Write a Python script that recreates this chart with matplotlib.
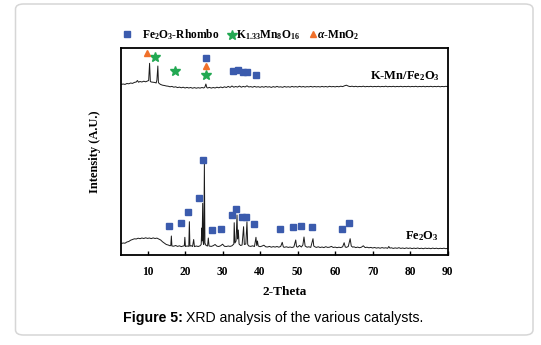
import matplotlib
matplotlib.use("Agg")
import matplotlib.pyplot as plt
from matplotlib.lines import Line2D
from matplotlib.patches import FancyBboxPatch

plt.rcParams['mathtext.fontset'] = 'custom'
plt.rcParams['mathtext.rm'] = 'Liberation Serif:bold'
plt.rcParams['mathtext.it'] = 'Liberation Serif:italic:bold'
plt.rcParams['mathtext.bf'] = 'Liberation Serif:bold'

# ---------------- data ----------------
fe_x = [3.0, 3.5, 4.0, 4.5, 5.0, 5.5, 6.0, 6.5, 7.0, 7.5, 8.0, 8.5, 9.0, 9.5, 10.0, 10.5, 11.0, 11.5,
        12.0, 12.5, 13.0, 13.5, 14.0, 14.5, 15.0, 15.5, 16.0, 16.2, 16.35, 16.5, 17.0, 17.5, 18.0, 18.5,
        19.0, 19.5, 19.8, 19.95, 20.1, 20.5, 21.0, 21.15, 21.3, 21.6, 22.0, 22.3, 22.5, 23.0, 23.5, 24.0,
        24.3, 24.45, 24.55, 24.7, 24.85, 25.0, 25.15, 25.3, 25.6, 26.0, 26.2, 26.4, 27.0, 27.5, 28.0, 28.5,
        29.0, 29.5, 30.0, 30.5, 31.0, 31.5, 32.0, 32.5, 33.0, 33.1, 33.3, 33.6, 33.85, 34.0, 34.2, 34.4,
        34.8, 35.2, 35.6, 35.8, 36.2, 36.5, 36.7, 37.0, 37.5, 38.0, 38.5, 38.9, 39.1, 39.3, 39.5, 40.0,
        40.5, 41.0, 41.5, 42.0, 42.5, 43.0, 43.5, 44.0, 44.5, 45.0, 45.5, 45.9, 46.2, 46.5, 47.0, 47.5,
        48.0, 48.5, 49.0, 49.5, 49.7, 50.0, 50.5, 51.0, 51.4, 51.7, 52.0, 52.5, 53.0, 53.5, 54.1, 54.3,
        54.7, 55.0, 55.5, 56.0, 56.5, 57.0, 57.5, 58.0, 58.5, 59.0, 59.5, 60.0, 60.5, 61.0, 61.5, 62.0,
        62.4, 62.7, 63.0, 63.5, 64.0, 64.3, 64.7, 65.0, 65.5, 66.0, 66.5, 67.0, 67.5, 68.0, 68.5, 69.0,
        69.5, 70.0, 70.5, 71.0, 71.5, 72.0, 72.5, 73.0, 73.5, 74.0, 74.3, 74.6, 75.0, 75.5, 76.0, 76.5,
        77.0, 77.5, 78.0, 78.5, 79.0, 79.5, 80.0, 80.5, 81.0, 81.5, 82.0, 82.5, 83.0, 83.5, 84.0, 84.5,
        85.0, 85.5, 86.0, 86.5, 87.0, 87.5, 88.0, 88.5, 89.0, 89.5, 90.0]
fe_y = [11.5, 12.0, 11.8, 13.0, 13.5, 14.8, 15.5, 16.2, 16.0, 16.8, 16.3, 17.0, 16.5, 17.2, 16.6, 17.0, 16.4, 17.1,
        16.5, 16.9, 16.0, 15.0, 13.2, 11.8, 10.5, 10.0, 9.2, 9.5, 19.0, 9.0, 8.8, 9.5, 8.6, 9.2,
        8.4, 9.0, 9.2, 17.7, 8.5, 9.0, 8.7, 33.3, 8.8, 9.4, 8.5, 15.5, 8.4, 9.0, 8.5, 9.2,
        10.5, 27.0, 14.0, 51.7, 12.0, 10.5, 92.0, 12.0, 9.5, 9.0, 17.0, 9.0, 8.6, 9.3, 10.5, 8.8,
        8.5, 9.3, 10.8, 8.7, 8.5, 9.0, 8.6, 9.2, 11.0, 32.3, 12.0, 14.0, 40.0, 16.0, 25.0, 11.0,
        9.5, 10.0, 28.3, 10.5, 11.0, 33.3, 10.5, 9.0, 8.6, 9.2, 8.5, 17.7, 9.5, 14.0, 9.0, 8.3,
        8.9, 9.8, 8.2, 8.0, 8.6, 7.8, 8.4, 7.9, 8.5, 7.8, 8.6, 12.7, 8.0, 7.7, 8.2, 7.6,
        8.0, 7.5, 8.1, 15.0, 8.5, 7.8, 9.5, 8.0, 10.0, 18.0, 9.0, 7.8, 8.2, 7.6, 16.3, 9.0,
        8.0, 7.6, 8.2, 7.5, 8.0, 7.4, 8.3, 7.6, 7.8, 8.6, 7.5, 7.9, 7.3, 7.8, 7.4, 8.2,
        12.3, 8.0, 7.6, 8.5, 16.3, 9.0, 7.8, 8.2, 7.4, 7.9, 7.3, 7.8, 9.2, 7.4, 7.8, 7.2,
        7.6, 7.0, 7.5, 6.9, 7.3, 6.8, 7.4, 6.9, 7.2, 6.7, 8.5, 6.9, 7.2, 6.6, 7.1, 6.7,
        7.3, 6.6, 7.0, 6.5, 7.1, 6.6, 7.0, 6.4, 6.9, 6.5, 7.0, 6.4, 6.8, 6.3, 6.9, 6.5,
        6.8, 6.3, 6.9, 6.4, 6.8, 6.3, 6.7, 6.4, 6.8, 6.3, 6.6]

kmn_x = [2.9, 3.5, 4.0, 4.5, 5.0, 5.5, 6.0, 6.5, 7.0, 7.3, 7.6, 8.0, 8.5, 9.0, 9.5, 10.0, 10.3, 10.55, 10.75,
         11.0, 11.5, 12.0, 12.3, 12.5, 12.75, 12.9, 13.1, 13.5, 14.0, 14.5, 15.0, 15.5, 16.0, 16.5, 17.0,
         17.5, 18.0, 18.5, 19.0, 19.5, 20.0, 20.5, 21.0, 21.5, 22.0, 22.5, 23.0, 23.5, 24.0, 24.5, 25.0,
         25.3, 25.55, 25.8, 26.0, 26.5, 27.0, 27.5, 28.0, 28.5, 29.0, 29.5, 30.0, 30.5, 31.0, 31.5, 32.0,
         32.5, 33.0, 33.5, 34.0, 34.5, 35.0, 35.5, 36.0, 36.5, 37.0, 37.5, 38.0, 38.5, 39.0, 39.5, 40.0,
         40.5, 41.0, 41.5, 42.0, 42.5, 43.0, 43.5, 44.0, 44.5, 45.0, 45.5, 46.0, 46.5, 47.0, 47.5, 48.0,
         48.5, 49.0, 49.5, 50.0, 50.5, 51.0, 51.5, 52.0, 52.5, 53.0, 53.5, 54.0, 54.5, 55.0, 55.5, 56.0,
         56.5, 57.0, 57.5, 58.0, 58.5, 59.0, 59.5, 60.0, 60.5, 61.0, 61.5, 62.0, 62.5, 63.0, 63.5, 64.0,
         64.5, 65.0, 65.5, 66.0, 66.5, 67.0, 67.5, 68.0, 68.5, 69.0, 69.5, 70.0, 70.5, 71.0, 71.5, 72.0,
         72.5, 73.0, 73.5, 74.0, 74.5, 75.0, 75.5, 76.0, 76.5, 77.0, 77.5, 78.0, 78.5, 79.0, 79.5, 80.0,
         80.5, 81.0, 81.5, 82.0, 82.5, 83.0, 83.5, 84.0, 84.5, 85.0, 85.5, 86.0, 86.5, 87.0, 87.5, 88.0,
         88.5, 89.0, 89.5, 90.0]
kmn_y = [170.5, 171.0, 170.6, 171.5, 171.2, 172.0, 171.6, 172.6, 173.0, 174.5, 172.8, 173.5, 173.0, 173.8, 173.2, 174.0, 174.5, 191.7, 173.5,
         173.0, 172.8, 172.5, 172.0, 175.0, 189.0, 172.5, 171.5, 170.5, 169.8, 169.5, 169.0, 168.8, 168.2, 168.6, 167.8,
         168.2, 167.4, 167.9, 167.2, 167.8, 167.0, 167.6, 167.0, 167.5, 166.8, 167.4, 166.8, 167.3, 166.9, 167.5, 167.0,
         168.0, 171.0, 167.5, 167.0, 167.6, 166.9, 167.5, 167.0, 167.8, 167.2, 168.0, 167.3, 168.2, 167.5, 168.6, 167.6,
         169.0, 167.8, 168.5, 167.9, 169.0, 167.8, 168.6, 168.0, 169.2, 168.0, 168.4, 167.8, 168.6, 167.9, 168.3, 167.7,
         168.4, 167.8, 168.5, 167.9, 168.3, 167.6, 168.4, 167.8, 168.6, 167.9, 168.2, 167.7, 168.5, 167.9, 168.3, 167.8,
         168.6, 168.0, 168.4, 167.9, 168.7, 168.0, 168.5, 167.9, 168.4, 168.1, 168.6, 168.0, 168.5, 168.1, 168.4, 168.0,
         168.6, 168.1, 168.5, 168.0, 168.7, 168.2, 168.5, 168.1, 168.6, 168.2, 168.8, 168.4, 169.2, 169.8, 168.9, 168.4,
         168.8, 168.3, 168.7, 168.2, 168.6, 168.3, 168.8, 168.2, 168.6, 168.3, 168.7, 168.2, 168.6, 168.3, 168.7, 168.2,
         168.6, 168.3, 168.8, 168.2, 168.6, 168.3, 168.7, 168.2, 168.6, 168.3, 168.7, 168.2, 168.6, 168.3, 168.7, 168.2,
         168.6, 168.3, 168.7, 168.2, 168.6, 168.3, 168.7, 168.2, 168.6, 168.3, 168.7, 168.2, 168.6, 168.3, 168.7, 168.2,
         168.6, 168.3, 168.7, 168.4]

# phase markers
fe_sq_x = [15.8, 18.8, 20.7, 23.6, 24.9, 27.3, 29.6, 32.4, 33.6, 35.3, 36.3, 38.5, 45.2, 48.7, 51.0, 53.9, 61.9, 63.6]
fe_sq_y = [29.0, 31.7, 42.7, 57.0, 94.7, 24.7, 26.3, 40.3, 46.0, 38.3, 38.3, 31.0, 25.7, 28.3, 29.0, 28.3, 25.7, 32.0]
kmn_sq_x = [25.6, 32.9, 34.0, 35.4, 36.6, 38.9]
kmn_sq_y = [196.7, 184.0, 185.3, 182.7, 182.7, 180.0]
kmn_star_x = [12.1, 17.2, 25.6]
kmn_star_y = [197.7, 183.7, 180.3]
kmn_tri_x = [9.8, 25.6]
kmn_tri_y = [201.7, 189.0]

xticks = [10, 20, 30, 40, 50, 60, 70, 80, 90]
legend_labels = [r'Fe$_2$O$_3$-Rhombo', r'K$_{1.33}$Mn$_8$O$_{16}$', r'$\it{\alpha}$-MnO$_2$']
series_labels = [r'K-Mn/Fe$_2$O$_3$', r'Fe$_2$O$_3$']

# ---------------- styling ----------------
BLUE = '#3b5bad'
GREEN = '#22a852'
ORANGE = '#f0702a'
SERIF = 'Liberation Serif'
W, H = 541, 345

fig = plt.figure(figsize=(5.41, 3.45), dpi=100)
fig.patch.set_facecolor('white')

# rounded frame around the figure
frame = FancyBboxPatch((15.5 / W, 10 / H), (533 - 15.5) / W, (341 - 10) / H,
                       boxstyle='round,pad=0,rounding_size=0.015', transform=fig.transFigure,
                       facecolor='none', edgecolor='#d6d6d6', linewidth=1.1, zorder=-5)
fig.patches.append(frame)

ax = fig.add_axes([120.7 / W, 1 - 255 / H, (447.7 - 120.7) / W, (255 - 48) / H])
ax.set_facecolor('none')

ax.plot(fe_x, fe_y, color='#1a1a1a', lw=0.7)
ax.plot(kmn_x, kmn_y, color='#1a1a1a', lw=0.7)

ax.plot(fe_sq_x, fe_sq_y, ls='', marker='s', ms=4.6, color=BLUE, mec=BLUE)
ax.plot(kmn_sq_x, kmn_sq_y, ls='', marker='s', ms=4.6, color=BLUE, mec=BLUE)
ax.plot(kmn_star_x, kmn_star_y, ls='', marker='*', ms=7.5, color=GREEN, mec=GREEN)
ax.plot(kmn_tri_x, kmn_tri_y, ls='', marker='^', ms=5.0, color=ORANGE, mec=ORANGE)

ax.text(88.0, 176.0, series_labels[0], ha='right', va='baseline', fontsize=9,
        family=SERIF, fontweight='bold')
ax.text(87.6, 15.5, series_labels[1], ha='right', va='baseline', fontsize=9,
        family=SERIF, fontweight='bold')

ax.set_xlim(2.85, 90)
ax.set_ylim(0, 207)
ax.set_yticks([])
ax.set_xticks(xticks)
ax.set_xticklabels([str(t) for t in xticks], family=SERIF, fontweight='bold', fontsize=8.3)
ax.tick_params(axis='x', direction='in', length=3, width=1.0, pad=8)
for s in ax.spines.values():
    s.set_linewidth(1.3)
    s.set_color('black')

ax.set_xlabel('2-Theta', family=SERIF, fontweight='bold', fontsize=9.5, labelpad=6)
ax.set_ylabel('Intensity (A.U.)', family=SERIF, fontweight='bold', fontsize=9, labelpad=14)

# legend (manually placed above the axes)
leg_marker_x = [127.3, 231.7, 313.3]
leg_marker_y = [34.0, 35.0, 34.0]
leg_text_x = [141.7, 236.5, 316.7]
leg_styles = [dict(marker='s', ms=4.6, color=BLUE),
              dict(marker='*', ms=7.5, color=GREEN),
              dict(marker='^', ms=5.0, color=ORANGE)]
for mx, my, tx, st, lab in zip(leg_marker_x, leg_marker_y, leg_text_x, leg_styles, legend_labels):
    fig.add_artist(Line2D([mx / W], [1 - my / H], ls='', transform=fig.transFigure, **st))
    fig.text(tx / W, 1 - 38.3 / H, lab, ha='left', va='baseline', family=SERIF,
             fontweight='bold', fontsize=8.3)

# caption
t1 = fig.text(123 / W, 1 - 318 / H, 'Figure 5:', ha='left', va='center',
              family='Liberation Sans', fontweight='bold', fontsize=10.2)
fig.canvas.draw()
bb = t1.get_window_extent()
x_next = (bb.x1 + 3) / W
fig.text(x_next, 1 - 318 / H, 'XRD analysis of the various catalysts.', ha='left', va='center',
         family='Liberation Sans', fontsize=10.2)

fig.savefig('out.png', dpi=100)
